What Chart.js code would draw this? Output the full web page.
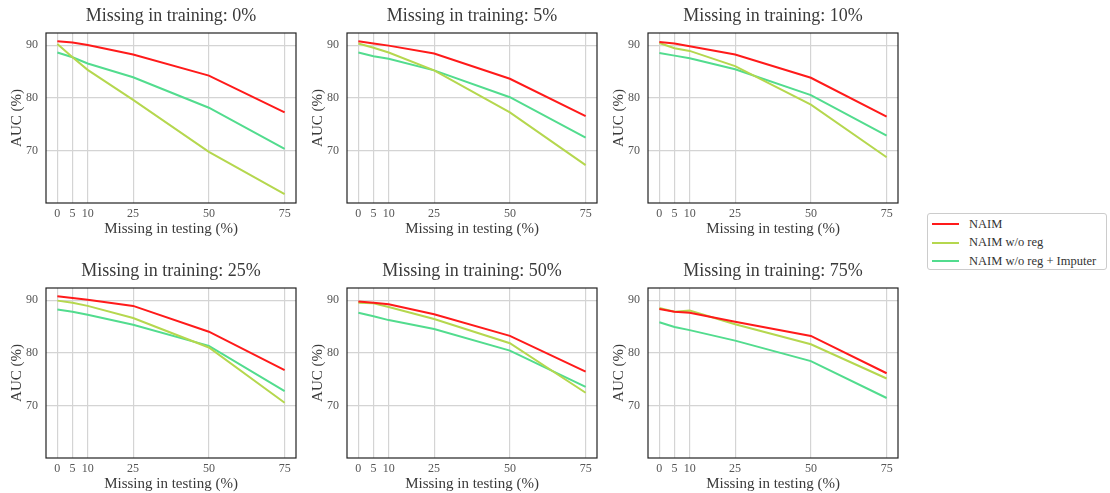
<!DOCTYPE html>
<html lang="en">
<head>
<meta charset="UTF-8">
<title>NAIM - AUC vs missing values</title>
<style>
  body { margin: 0; background: #fff; width: 1110px; height: 493px; overflow: hidden; position: relative; font-family: "Liberation Serif", serif; }
  canvas { position: absolute; }
  #legend { position: absolute; left: 927px; top: 213px; width: 180px; height: 57px; border: 1px solid #ccc; border-radius: 3px; box-sizing: border-box; padding-top: 1px; }
  .item { height: 18.5px; display: flex; align-items: center; font-size: 12.5px; color: #333; }
  .swatch { width: 27px; height: 2px; margin-left: 4px; margin-right: 10px; }
</style>
</head>
<body>
<div id="legend"></div>

<script src="https://cdn.jsdelivr.net/npm/chart.js"></script>
<script>
// x values (missing in testing, %)
const testing = [0, 5, 10, 25, 50, 75];
const trainingLevels = ['0%', '5%', '10%', '25%', '50%', '75%'];
const yTicks = [70, 80, 90];
const seriesNames = ['NAIM', 'NAIM w/o reg', 'NAIM w/o reg + Imputer'];

// AUC (%) per training level, one row per subplot
const naim = [
  [90.75, 90.5, 90.0, 88.2, 84.2, 77.2],
  [90.75, 90.3, 89.9, 88.4, 83.6, 76.5],
  [90.6, 90.3, 89.8, 88.2, 83.8, 76.4],
  [90.75, 90.4, 90.05, 88.9, 84.0, 76.7],
  [89.75, 89.5, 89.2, 87.3, 83.2, 76.4],
  [88.3, 87.8, 87.6, 85.9, 83.2, 76.1]
];
const naimNoReg = [
  [90.2, 87.7, 85.3, 79.6, 69.7, 61.7],
  [90.3, 89.5, 88.6, 85.2, 77.2, 67.2],
  [90.4, 89.4, 88.9, 86.0, 78.7, 68.7],
  [89.9, 89.5, 88.9, 86.6, 81.0, 70.5],
  [89.5, 89.4, 88.7, 86.4, 81.8, 72.4],
  [88.5, 87.8, 88.0, 85.4, 81.6, 75.1]
];
const naimImputer = [
  [88.6, 87.7, 86.5, 83.9, 78.1, 70.3],
  [88.6, 87.9, 87.4, 85.2, 80.1, 72.4],
  [88.5, 88.0, 87.5, 85.4, 80.5, 72.8],
  [88.2, 87.8, 87.2, 85.3, 81.3, 72.7],
  [87.6, 86.95, 86.2, 84.5, 80.4, 73.5],
  [85.8, 84.9, 84.3, 82.3, 78.4, 71.4]
];

const colors = ['#ff1a1a', '#b5d74e', '#52dc8e'];
const allSeries = [naim, naimNoReg, naimImputer];

const textColor = '#3a3a3a';
const gridColor = '#d4d4d4';

// box around the plot area + title centred over it
const framePlugin = {
  id: 'frame',
  afterDraw(chart, args, opts) {
    const a = chart.chartArea;
    const ctx = chart.ctx;
    ctx.save();
    ctx.strokeStyle = '#222';
    ctx.lineWidth = 1.2;
    ctx.strokeRect(a.left, a.top, a.right - a.left, a.bottom - a.top);
    ctx.fillStyle = textColor;
    ctx.font = '18px "Liberation Serif"';
    ctx.textAlign = 'center';
    ctx.textBaseline = 'middle';
    ctx.fillText(opts.text, (a.left + a.right) / 2, a.top - 17);
    ctx.restore();
  }
};

const plotLefts = [46, 347, 648];
const plotTops = [33, 288];

trainingLevels.forEach(function (level, i) {
  const canvas = document.createElement('canvas');
  canvas.width = 302;
  canvas.height = 238;
  canvas.style.left = (plotLefts[i % 3] - 46) + 'px';
  canvas.style.top = (plotTops[Math.floor(i / 3)] - 33) + 'px';
  document.body.appendChild(canvas);

  new Chart(canvas.getContext('2d'), {
    type: 'line',
    data: {
      datasets: allSeries.map(function (s, k) {
        return {
          label: seriesNames[k],
          data: testing.map((x, j) => ({ x: x, y: s[i][j] })),
          borderColor: colors[k],
          backgroundColor: colors[k],
          borderWidth: 2,
          pointRadius: 0,
          tension: 0
        };
      })
    },
    options: {
      responsive: false,
      animation: false,
      layout: { padding: { left: 0, right: 6, top: 33, bottom: 0 } },
      plugins: {
        legend: { display: false },
        tooltip: { enabled: false },
        title: { display: false },
        frame: { text: 'Missing in training: ' + level }
      },
      scales: {
        x: {
          type: 'linear',
          min: -3.75,
          max: 78.75,
          afterBuildTicks: function (scale) { scale.ticks = testing.map(v => ({ value: v })); },
          afterFit: function (scale) { scale.height = 35; },
          grid: { color: gridColor, lineWidth: 1.2, drawTicks: false },
          border: { display: false },
          ticks: { color: '#555', padding: 4, font: { family: 'Liberation Serif', size: 12 }, maxRotation: 0, autoSkip: false },
          title: { display: true, text: 'Missing in testing (%)', color: textColor, padding: { top: 0, bottom: 0 }, font: { family: 'Liberation Serif', size: 15 } }
        },
        y: {
          min: 60,
          max: 92.3,
          afterBuildTicks: function (scale) { scale.ticks = yTicks.map(v => ({ value: v })); },
          afterFit: function (scale) { scale.width = 46; },
          grid: { color: gridColor, lineWidth: 1.2, drawTicks: false },
          border: { display: false },
          ticks: { color: '#555', padding: 8, font: { family: 'Liberation Serif', size: 12 } },
          title: { display: true, text: 'AUC (%)', color: textColor, padding: { top: 8, bottom: 0 }, font: { family: 'Liberation Serif', size: 15 } }
        }
      }
    },
    plugins: [framePlugin]
  });
});

// legend built from the series names
const legend = document.getElementById('legend');
seriesNames.forEach(function (name, k) {
  const row = document.createElement('div');
  row.className = 'item';
  row.innerHTML = '<span class="swatch" style="background:' + colors[k] + '"></span><span>' + name + '</span>';
  legend.appendChild(row);
});
</script>
</body>
</html>
